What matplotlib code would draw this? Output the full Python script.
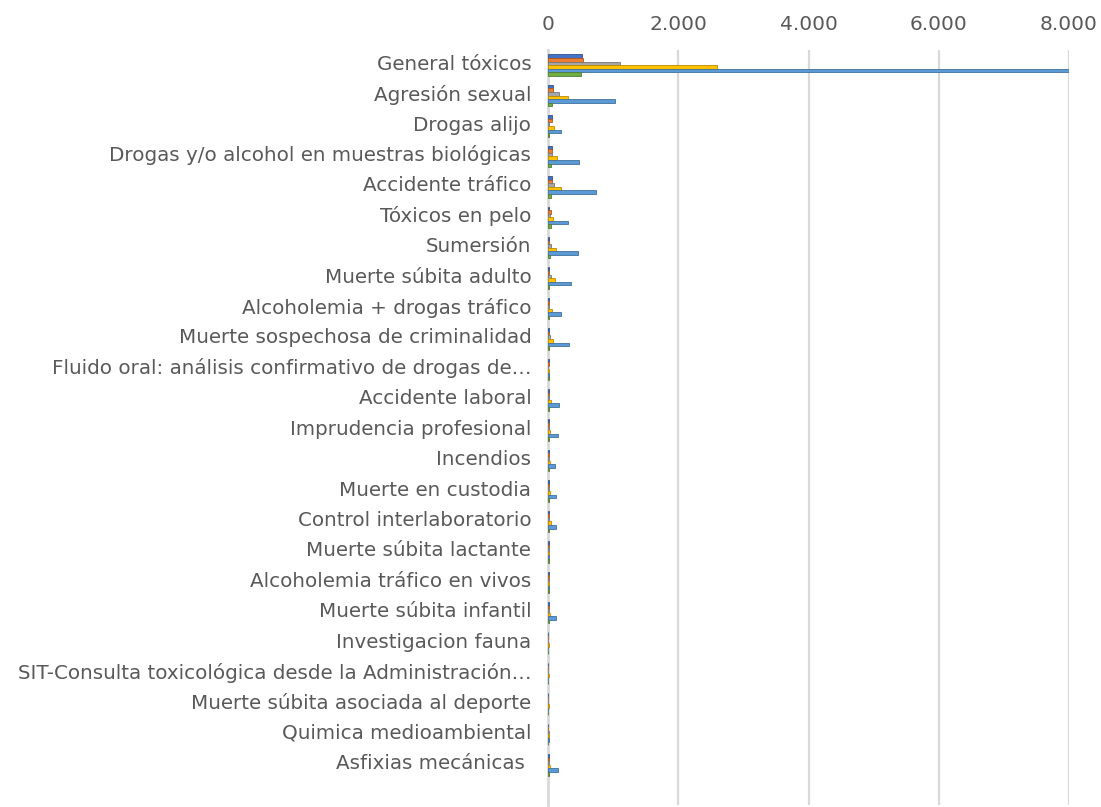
import matplotlib
matplotlib.use("Agg")
import matplotlib.pyplot as plt
import matplotlib.transforms as mtransforms
import numpy as np

categories = [
    "General tóxicos",
    "Agresión sexual",
    "Drogas alijo",
    "Drogas y/o alcohol en muestras biológicas",
    "Accidente tráfico",
    "Tóxicos en pelo",
    "Sumersión",
    "Muerte súbita adulto",
    "Alcoholemia + drogas tráfico",
    "Muerte sospechosa de criminalidad",
    "Fluido oral: análisis confirmativo de drogas de…",
    "Accidente laboral",
    "Imprudencia profesional",
    "Incendios",
    "Muerte en custodia",
    "Control interlaboratorio",
    "Muerte súbita lactante",
    "Alcoholemia tráfico en vivos",
    "Muerte súbita infantil",
    "Investigacion fauna",
    "SIT-Consulta toxicológica desde la Administración…",
    "Muerte súbita asociada al deporte",
    "Quimica medioambiental",
    "Asfixias mecánicas ",
]

xticks = [0, 2000, 4000, 6000, 8000]
xtick_labels = ["0", "2.000", "4.000", "6.000", "8.000"]

serie1 = [517, 72, 57, 57, 57, 20, 20, 20, 15, 15, 8, 10, 10, 10, 8, 10, 8, 8, 10, 5, 5, 5, 5, 10]
serie2 = [540, 72, 57, 57, 57, 40, 20, 20, 10, 10, 8, 10, 10, 10, 8, 10, 8, 8, 10, 5, 5, 5, 5, 10]
serie3 = [1106, 169, 20, 57, 97, 30, 40, 40, 15, 30, 5, 15, 15, 10, 10, 15, 8, 8, 12, 5, 5, 5, 8, 15]
serie4 = [2596, 312, 97, 133, 205, 82, 118, 102, 61, 82, 20, 46, 35, 30, 28, 46, 15, 12, 30, 8, 8, 8, 15, 30]
serie5 = [8000, 1034, 195, 481, 742, 312, 461, 353, 195, 328, 10, 169, 149, 108, 118, 118, 15, 10, 123, 5, 5, 5, 10, 159]
serie6 = [507, 66, 20, 45, 40, 40, 30, 10, 10, 10, 8, 10, 10, 10, 8, 10, 8, 8, 10, 5, 5, 5, 5, 10]

series = [serie1, serie2, serie3, serie4, serie5, serie6]
colors = ["#4472C4", "#ED7D31", "#A5A5A5", "#FFC000", "#5B9BD5", "#70AD47"]
edges = ["#2F528F", "#AE5A21", "#787878", "#BC8C00", "#41719C", "#507E32"]

W, H = 1101, 807
fig = plt.figure(figsize=(W / 100, H / 100), dpi=100)
left, right = 548 / W, 1069 / W
top, bottom = 50 / H, 805 / H
ax = fig.add_axes([left, 1 - bottom, right - left, bottom - top])

n = len(categories)
y = np.arange(n)
bh = 0.118
for i, (vals, c, e) in enumerate(zip(series, colors, edges)):
    off = (i - 2.5) * bh
    ax.barh(y + off, vals, height=bh, color=c, edgecolor=e, linewidth=0.6, zorder=3)

pad_bottom = (805 - 780) / 30.4
ax.set_ylim(n - 0.5 + pad_bottom, -0.5)
ax.set_xlim(0, 8000)
ax.set_xticks(xticks)
ax.tick_params(axis="x", length=0, labelbottom=False, labeltop=False)
trans = mtransforms.blended_transform_factory(ax.transData, ax.transAxes)
for xv, lbl in zip(xticks, xtick_labels):
    ax.text(xv, 1 + 25 / 755, lbl, transform=trans, ha="center", va="center",
            fontsize=14.5, color="#595959")
ax.set_yticks(y)
ax.set_yticklabels(categories)
ax.tick_params(axis="y", length=0, pad=12, labelsize=14.3, labelcolor="#595959")
shift = mtransforms.ScaledTranslation(0, 3 / 100, fig.dpi_scale_trans)
for lab in ax.get_yticklabels():
    lab.set_transform(lab.get_transform() + shift)
ax.grid(axis="x", color="#D9D9D9", linewidth=1.6, zorder=0)
for s in ["top", "right", "bottom"]:
    ax.spines[s].set_visible(False)
ax.spines["left"].set_color("#D9D9D9")
ax.spines["left"].set_linewidth(2)
ax.spines["left"].set_zorder(2)

fig.savefig("out.png", dpi=100)
